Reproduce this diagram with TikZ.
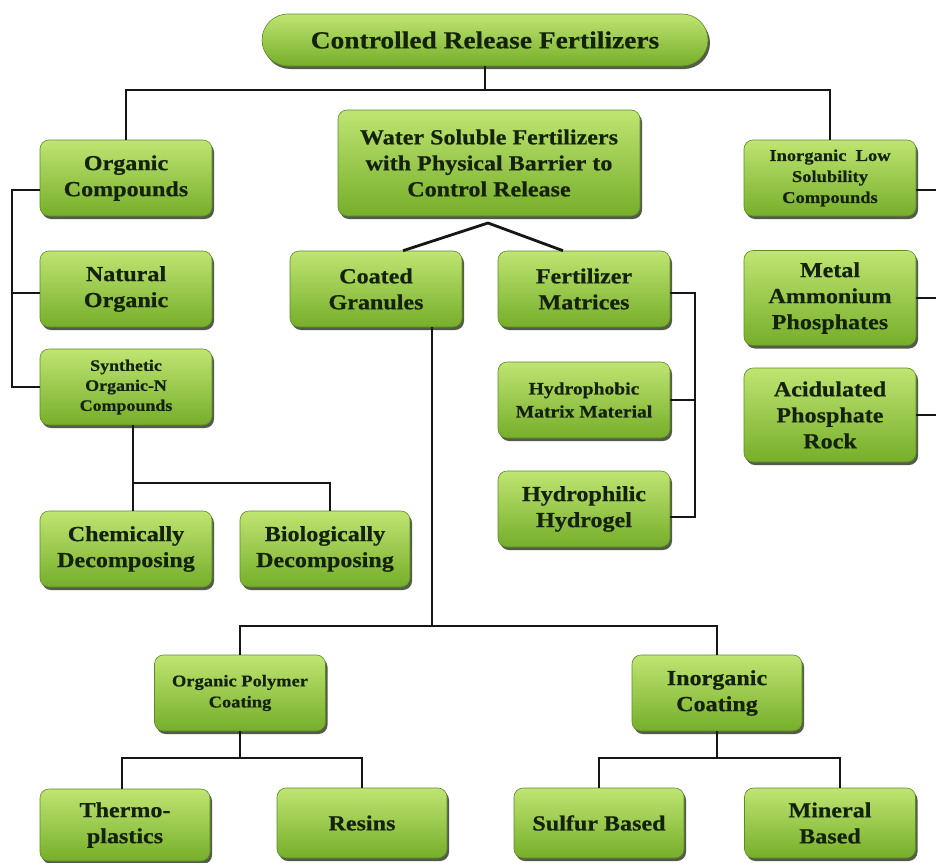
\documentclass[tikz,border=0pt]{standalone}
\usepackage{fontspec}
\setmainfont{Liberation Serif}[BoldFeatures={FakeStretch=1.12,FakeBold=0.5}]
\usetikzlibrary{shadows,calc}
\definecolor{gtop}{HTML}{BFE572}
\definecolor{gbot}{HTML}{76AE2A}
\definecolor{gedge}{HTML}{5E8A26}
\definecolor{gshadow}{HTML}{36402C}
\definecolor{txt}{HTML}{14220A}
\definecolor{wire}{HTML}{161616}
\tikzset{
  box/.style={rounded corners=9pt, top color=gtop, bottom color=gbot,
    draw=gedge, line width=0.6pt, align=center, text=txt, inner sep=2pt,
    minimum width=172pt, minimum height=76pt,
    drop shadow={shadow xshift=2pt, shadow yshift=-3pt, fill=gshadow, opacity=0.85}},
  big/.style={font=\fontsize{21.5}{26}\selectfont\bfseries},
  small/.style={font=\fontsize{16}{20}\selectfont\bfseries},
  mid/.style={font=\fontsize{17.5}{23}\selectfont\bfseries},
  wire/.style={draw=wire, line width=2.8pt}
}
\begin{document}
\begin{tikzpicture}[x=1pt,y=-1pt]
\useasboundingbox (0,0) rectangle (936,862);
\fill[white] (0,0) rectangle (936,862);

% boxes
\node[box, rounded corners=26pt, minimum width=446pt, minimum height=52pt,
      font=\fontsize{24.5}{28}\selectfont\bfseries] (crf) at (485,40) {Controlled Release Fertilizers};
\node[box, big, minimum width=302pt, minimum height=106pt] (ws) at (489,163)
  {Water Soluble Fertilizers\\with Physical Barrier to\\Control Release};

\node[box, big] (oc) at (126,178) {Organic\\Compounds};
\node[box, big] (no) at (126,289) {Natural\\Organic};
\node[box, small] (so) at (126,387) {Synthetic\\Organic-N\\Compounds};
\node[box, big] (chem) at (126,549) {Chemically\\Decomposing};
\node[box, big, minimum width=170pt] (bio) at (325,549) {Biologically\\Decomposing};

\node[box, big] (cg) at (376,289) {Coated\\Granules};
\node[box, big] (fm) at (584,289) {Fertilizer\\Matrices};
\node[box, mid] (hpm) at (584,400) {Hydrophobic\\Matrix Material};
\node[box, big] (hh) at (584,509) {Hydrophilic\\Hydrogel};

\node[box, small, font=\fontsize{16.5}{21}\selectfont\bfseries] (ils) at (830,178) {Inorganic\ \ Low\\Solubility\\Compounds};
\node[box, big, minimum height=95pt] (map) at (830,298) {Metal\\Ammonium\\Phosphates};
\node[box, big, minimum height=94pt] (apr) at (830,415) {Acidulated\\Phosphate\\Rock};

\node[box, small, minimum width=171pt, font=\fontsize{16.5}{21}\selectfont\bfseries] (opc) at (240,693) {Organic Polymer\\Coating};
\node[box, big, minimum width=170pt] (ic) at (717,693) {Inorganic\\Coating};

\node[box, big, minimum width=170pt, minimum height=72pt] (tp) at (125,825) {Thermo-\\plastics};
\node[box, big, minimum width=170pt, minimum height=70pt] (res) at (362,823) {Resins};
\node[box, big, minimum width=170pt, minimum height=70pt] (sb) at (599,823) {Sulfur Based};
\node[box, big, minimum width=171pt, minimum height=70pt] (mb) at (830,823) {Mineral\\Based};

% junction points
\coordinate (tj) at (487,90);
\coordinate (lb) at (12,0);
\coordinate (sj) at (133,483);
\coordinate (bj) at (330,483);
\coordinate (ap) at (488,223);
\coordinate (mx) at (695,0);
\coordinate (rx) at (940,0);
\coordinate (cj) at (432,626);
\coordinate (pj) at (240,758);
\coordinate (ij) at (717,758);

% top level
\draw[wire] (crf.south) -- (crf.south |- tj);
\draw[wire] (oc.north) -- (oc.north |- tj) -- (ils.north |- tj) -- (ils.north);

% organic bracket
\draw[wire] ([yshift=-12pt]oc.west) -| (lb |- so.west) -- (so.west);
\draw[wire] ([yshift=-4pt]no.west) -- ([yshift=-4pt]no.west -| lb);

% synthetic children
\draw[wire] (so.south -| sj) -- (sj) -- (bj) -- (bj |- bio.north);
\draw[wire] (sj) -- (sj |- chem.north);

% water soluble split
\draw[wire] ([xshift=27pt]cg.north) -- (ap) -- ([xshift=-21pt]fm.north);

% matrices bracket
\draw[wire] ([yshift=-4pt]fm.east) -| ([yshift=-8pt]hh.east -| mx) -- ([yshift=-8pt]hh.east);
\draw[wire] (hpm.east) -- (hpm.east -| mx);

% inorganic bracket
\draw[wire] ([yshift=-12pt]ils.east) -| (apr.east -| rx) -- (apr.east);
\draw[wire] (map.east) -- (map.east -| rx);

% coated granules children
\draw[wire] (cg.south -| cj) -- (cj);
\draw[wire] (opc.north) |- (cj) -| (ic.north);

% organic polymer children
\draw[wire] (opc.south) -- (pj);
\draw[wire] ([xshift=-3pt]tp.north) |- (pj) -| (res.north);

% inorganic coating children
\draw[wire] (ic.south) -- (ij);
\draw[wire] (sb.north) |- (ij) -| ([xshift=10pt]mb.north);
\end{tikzpicture}
\end{document}
